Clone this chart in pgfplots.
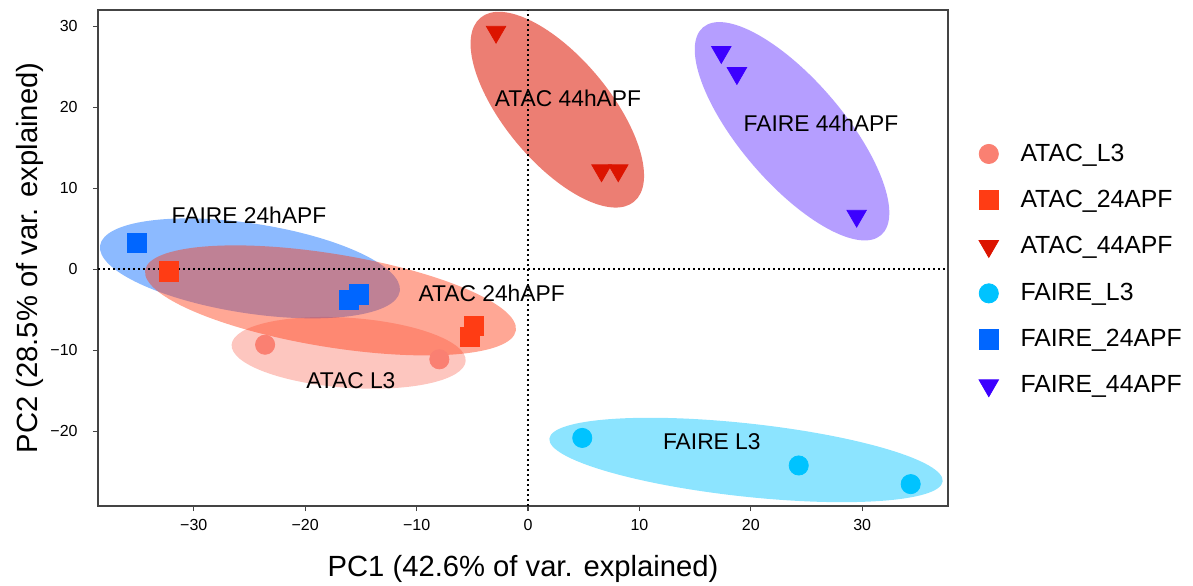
\documentclass[border=0pt]{standalone}
\usepackage{pgfplots}
\pgfplotsset{compat=1.18}
\usepackage{fontspec}
\setmainfont{Liberation Sans}

\definecolor{cAL3}{HTML}{FA8072}
\definecolor{cA24}{HTML}{FF3C14}
\definecolor{cA44}{HTML}{DC1400}
\definecolor{cFL3}{HTML}{00C3FF}
\definecolor{cF24}{HTML}{0066FF}
\definecolor{cF44}{HTML}{3C00FF}
\definecolor{axgray}{HTML}{444444}

\begin{document}
\begin{tikzpicture}
\begin{axis}[
  scale only axis, width=425pt, height=248pt,
  xmin=-38.6, xmax=37.7, ymin=-29.2, ymax=32.0,
  axis line style={axgray, line width=0.65pt},
  tick style={axgray, line width=0.65pt},
  tick align=outside, major tick length=2.5pt,
  xtick pos=bottom, ytick pos=left,
  xtick={-30,-20,-10,0,10,20,30},
  xticklabels={−30,−20,−10,0,10,20,30},
  ytick={-20,-10,0,10,20,30},
  yticklabels={−20,−10,0,10,20,30},
  ticklabel style={font=\fontsize{8}{9}\selectfont},
  xticklabel style={anchor=center, yshift=-7pt},
  yticklabel style={anchor=east, inner sep=0pt, xshift=-7.5pt},
  xlabel={PC1 (42.6\% of var. explained)},
  ylabel={PC2 (28.5\% of var. explained)},
  label style={font=\fontsize{14.6}{16}\selectfont},
  xlabel style={at={(axis description cs:0.5,-0.127)}, anchor=center},
  ylabel style={at={(axis description cs:-0.08,0.5)}, anchor=center},
  legend cell align=left,
  legend style={at={(rel axis cs:1,1)}, anchor=north west, xshift=15.35pt, yshift=-66.7pt,
    draw=none, fill=none, font=\fontsize{12.4}{14}\selectfont,
    row sep=12.9pt, column sep=11pt, inner sep=0pt,
    nodes={inner sep=0pt}},
]
% confidence ellipses
\fill[cAL3, opacity=0.45, rotate around={-4.0:(axis cs:-16.1,-10.3)}] (axis cs:-16.1,-10.3) ellipse [x radius=58.65pt, y radius=17.5pt];
\fill[cF24, opacity=0.45, rotate around={-8.7:(axis cs:-24.96,0.12)}] (axis cs:-24.96,0.12) ellipse [x radius=75.8pt, y radius=22.45pt];
\fill[cA24, opacity=0.45, rotate around={-9.25:(axis cs:-17.73,-3.83)}] (axis cs:-17.73,-3.83) ellipse [x radius=93.9pt, y radius=23.3pt];
\fill[cA44, opacity=0.55, rotate around={-50.1:(axis cs:2.63,19.7)}] (axis cs:2.63,19.7) ellipse [x radius=59.9pt, y radius=26.2pt];
\fill[cF44, opacity=0.38, rotate around={-49.4:(axis cs:23.7,17.04)}] (axis cs:23.7,17.04) ellipse [x radius=68.4pt, y radius=25.8pt];
\fill[cFL3, opacity=0.45, rotate around={-6.2:(axis cs:19.57,-23.52)}] (axis cs:19.57,-23.52) ellipse [x radius=98.9pt, y radius=18.3pt];
% zero lines
\draw[black, line width=1pt, dash pattern=on 1pt off 1.5pt] (axis cs:0,-29.2) -- (axis cs:0,32);
\draw[black, line width=1pt, dash pattern=on 1pt off 1.5pt] (axis cs:-38.6,0) -- (axis cs:37.7,0);

\addplot[only marks, color=cAL3, mark=*, mark size=4.8pt] coordinates {(-23.6,-9.3) (-7.96,-11.1)};
\addlegendentry{ATAC\_L3}
\addplot[only marks, color=cA24, mark=square*, mark size=4.8pt] coordinates {(-32.25,-0.25) (-5.2,-8.3) (-4.85,-7.0)};
\addlegendentry{ATAC\_24APF}
\addplot[only marks, color=cA44, mark=triangle*, mark size=5.6pt, mark options={rotate=180}] coordinates {(-2.87,29.3) (6.6,12.2) (8.1,12.2)};
\addlegendentry{ATAC\_44APF}
\addplot[only marks, color=cFL3, mark=*, mark size=4.8pt] coordinates {(4.87,-20.8) (24.3,-24.2) (34.35,-26.5)};
\addlegendentry{FAIRE\_L3}
\addplot[only marks, color=cF24, mark=square*, mark size=4.8pt] coordinates {(-35.1,3.25) (-16.1,-3.8) (-15.2,-3.1)};
\addlegendentry{FAIRE\_24APF}
\addplot[only marks, color=cF44, mark=triangle*, mark size=5.6pt, mark options={rotate=180}] coordinates {(17.35,26.8) (18.75,24.2) (29.5,6.6)};
\addlegendentry{FAIRE\_44APF}

\node[font=\fontsize{11.4}{13}\selectfont] at (axis cs:-25.05,6.7) {FAIRE 24hAPF};
\node[font=\fontsize{11.4}{13}\selectfont] at (axis cs:-3.26,-3.0) {ATAC 24hAPF};
\node[font=\fontsize{11.4}{13}\selectfont] at (axis cs:3.59,21.1) {ATAC 44hAPF};
\node[font=\fontsize{11.4}{13}\selectfont] at (axis cs:26.3,18.06) {FAIRE 44hAPF};
\node[font=\fontsize{11.4}{13}\selectfont] at (axis cs:-15.9,-13.7) {ATAC L3};
\node[font=\fontsize{11.4}{13}\selectfont] at (axis cs:16.5,-21.3) {FAIRE L3};
\end{axis}
\path (current axis.south west) ++(-49pt,-39.5pt) coordinate (bbsw);
\path (current axis.north east) ++(122.5pt,5pt) coordinate (bbne);
\pgfresetboundingbox
\path[use as bounding box] (bbsw) rectangle (bbne);
\end{tikzpicture}
\end{document}
